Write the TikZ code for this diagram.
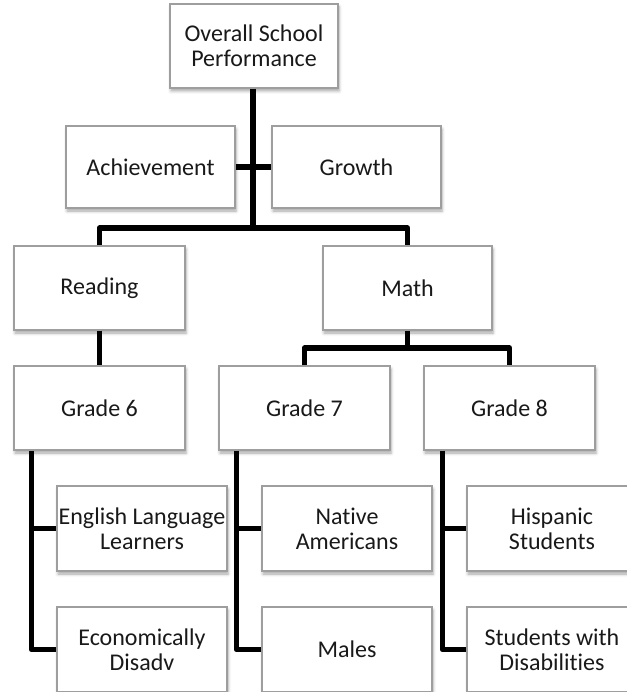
\documentclass[tikz,border=0pt]{standalone}
\usepackage{fontspec}
\setmainfont{Carlito}[Ligatures=NoCommon]
\usetikzlibrary{shadows.blur}

\tikzset{
  box/.style={
    draw=black!38, line width=1.2pt, fill=white,
    minimum width=170pt, minimum height=84pt,
    align=center, inner sep=0pt,
    font=\fontsize{24}{25}\selectfont, text=black!90,
    blur shadow={shadow xshift=1pt, shadow yshift=-3pt,
                 shadow blur radius=3pt, shadow opacity=35}
  },
  link/.style={line width=5.5pt, black, line join=round}
}

\begin{document}
\begin{tikzpicture}[x=1pt, y=1pt]
  \useasboundingbox (0,0) rectangle (626,-692);

  % junction points of the branching bars
  \coordinate (b1) at (253,-228);
  \coordinate (b2) at (407.5,-348);

  % hierarchy boxes
  \node[box, minimum width=168pt] (top) at (254,-46) {Overall School\\Performance};
  \node[box, minimum width=169pt, minimum height=82pt] (ach) at (150.5,-167) {Achievement};
  \node[box, minimum width=169pt, minimum height=82pt] (gro) at (356.5,-167) {Growth};
  \node[box, minimum width=171pt] (read) at (99.5,-288) {Reading};
  \node[box, minimum width=169pt] (math) at (407.5,-288) {Math};
  \node[box, minimum width=171pt] (g6) at (99.5,-408) {Grade 6};
  \node[box, minimum width=171pt] (g7) at (304.5,-408) {Grade 7};
  \node[box, minimum width=171pt] (g8) at (509.5,-408) {Grade 8};
  \node[box, minimum height=85pt] (ell) at (142,-528.5) {English Language\\Learners};
  \node[box, minimum height=85pt] (econ) at (142,-649.5) {Economically\\Disadv};
  \node[box, minimum height=85pt] (nat) at (347,-528.5) {Native\\Americans};
  \node[box, minimum height=85pt] (male) at (347,-649.5) {Males};
  \node[box, minimum height=85pt] (hisp) at (552,-528.5) {Hispanic\\Students};
  \node[box, minimum height=85pt] (swd) at (552,-649.5) {Students with\\Disabilities};

  % trunk from the top box and the cross bar between the two measures
  \draw[link] (top.south -| b1) -- (b1);
  \draw[link] (ach.east) -- (gro.west);
  \draw[link] (read.north) |- (b1) -| (math.north);

  % subjects to grades
  \draw[link] (read.south) -- (g6.north);
  \draw[link] (math.south) -- (b2);
  \draw[link] (g7.north) |- (b2) -| (g8.north);

  % grade brackets down to the student groups
  \coordinate (s6) at ([xshift=18pt]g6.south west);
  \coordinate (s7) at ([xshift=18pt]g7.south west);
  \coordinate (s8) at ([xshift=19pt]g8.south west);
  \draw[link] (s6) |- (econ.west);
  \draw[link] (s6 |- ell.west) -- (ell.west);
  \draw[link] (s7) |- (male.west);
  \draw[link] (s7 |- nat.west) -- (nat.west);
  \draw[link] (s8) |- (swd.west);
  \draw[link] (s8 |- hisp.west) -- (hisp.west);
\end{tikzpicture}
\end{document}
